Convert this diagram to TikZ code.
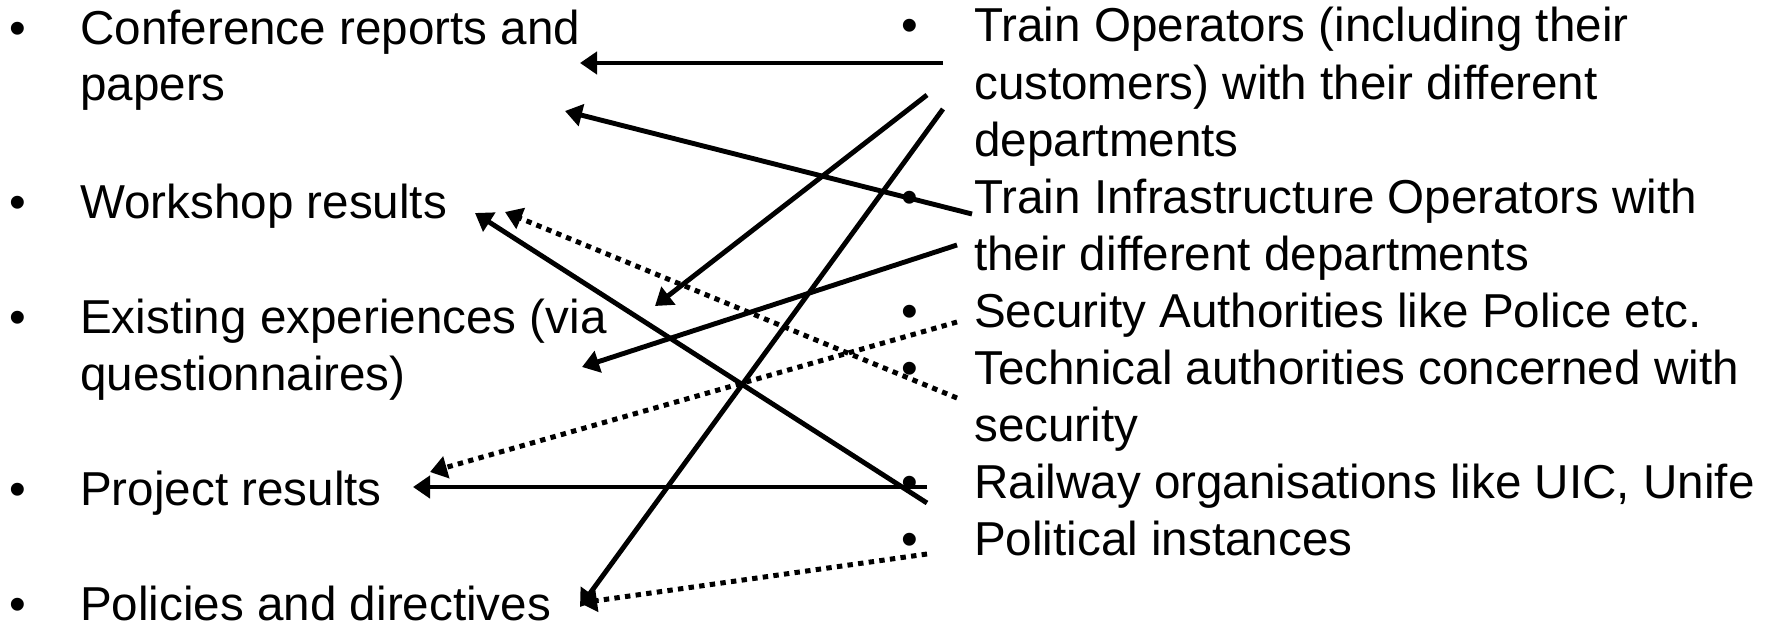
\documentclass[tikz,border=0pt]{standalone}
\usepackage{fontspec}
\setmainfont{Liberation Sans}
\usetikzlibrary{arrows.meta}
\begin{document}
\begin{tikzpicture}[x=1pt,y=-1pt,
  txt/.style={anchor=base west, inner sep=0pt, font=\fontsize{47.6}{57.1}\selectfont},
  bul/.style={anchor=base, inner sep=0pt, font=\fontsize{47.6}{57.1}\selectfont},
  conn/.style={line width=4.9pt, -{Triangle[length=17pt,width=22pt]}},
  dotconn/.style={line width=5pt, dash pattern=on 5.4pt off 5.3pt, -{Triangle[length=17pt,width=22pt]}}]
\useasboundingbox (0,0) rectangle (1779,623);
% left column
\node[bul] (bl1) at (18,45) {•};
\node[txt] (l1a) at (80,45) {Conference reports and};
\node[txt] (l1b) at (80,101) {papers};
\node[bul] (bl2) at (18,218) {•};
\node[txt] (l2) at (80,218) {Workshop results};
\node[bul] (bl3) at (18,333) {•};
\node[txt] (l3a) at (80,333) {Existing experiences (via};
\node[txt] (l3b) at (80,390) {questionnaires)};
\node[bul] (bl4) at (18,505) {•};
\node[txt] (l4) at (80,505) {Project results};
\node[bul] (bl5) at (18,620) {•};
\node[txt] (l5) at (80,620) {Policies and directives};
% right column
\node[bul] (br1) at (910,42) {•};
\node[txt] (r1a) at (974,42) {Train Operators (including their};
\node[txt] (r1b) at (974,99.1) {customers) with their different};
\node[txt] (r1c) at (974,156.2) {departments};
\node[bul] (br2) at (910,213.3) {•};
\node[txt] (r2a) at (974,213.3) {Train Infrastructure Operators with};
\node[txt] (r2b) at (974,270.4) {their different departments};
\node[bul] (br3) at (910,327.5) {•};
\node[txt] (r3) at (974,327.5) {Security Authorities like Police etc.};
\node[bul] (br4) at (910,384.6) {•};
\node[txt] (r4a) at (974,384.6) {Technical authorities concerned with};
\node[txt] (r4b) at (974,441.7) {security};
\node[bul] (br5) at (910,498.8) {•};
\node[txt] (r5) at (974,498.8) {Railway organisations like UIC, Unife};
\node[bul] (br6) at (910,555.9) {•};
\node[txt] (r6) at (974,555.9) {Political instances};
% connector end points
\coordinate (s1) at (943,63);   \coordinate (t1) at (580,63);
\coordinate (s2) at (972,214);  \coordinate (t2) at (565,111);
\coordinate (s3) at (927,95);   \coordinate (t3) at (655,306);
\coordinate (s4) at (943,109);  \coordinate (t4) at (580,607);
\coordinate (s5) at (957,245);  \coordinate (t5) at (582,367);
\coordinate (s6) at (927,503);  \coordinate (t6) at (475,213);
\coordinate (s7) at (957,398);  \coordinate (t7) at (505,212);
\coordinate (s8) at (957,322);  \coordinate (t8) at (430,472);
\coordinate (s9) at (927,487);  \coordinate (t9) at (413,487);
\coordinate (s10) at (927,554); \coordinate (t10) at (580,603);
% connectors
\draw[conn] (s1) -- (t1);
\draw[conn] (s2) -- (t2);
\draw[conn] (s3) -- (t3);
\draw[conn] (s4) -- (t4);
\draw[conn] (s5) -- (t5);
\draw[conn] (s6) -- (t6);
\draw[dotconn] (s7) -- (t7);
\draw[dotconn] (s8) -- (t8);
\draw[conn] (s9) -- (t9);
\draw[dotconn] (s10) -- (t10);
\end{tikzpicture}
\end{document}
